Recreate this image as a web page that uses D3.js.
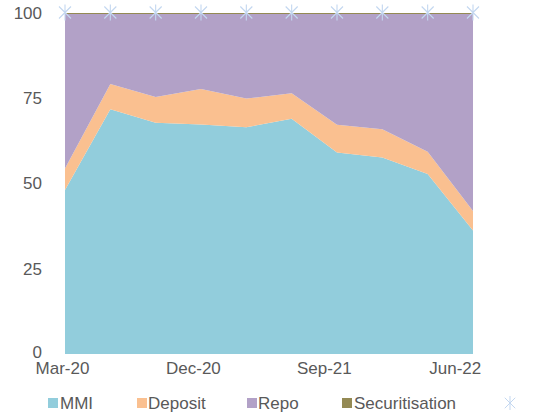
<!DOCTYPE html>
<html><head><meta charset="utf-8">
<script src="https://cdn.jsdelivr.net/npm/d3@7"></script>
<style>html,body{margin:0;padding:0;background:#fff;}svg{display:block;font-family:"Liberation Sans",Arial,sans-serif;}</style>
</head><body>
<svg id="chart" width="543" height="415"></svg>
<script>
const categories = ["Mar-20","Jun-20","Sep-20","Dec-20","Mar-21","Jun-21","Sep-21","Dec-21","Mar-22","Jun-22"];
const mmi = [48.1, 71.8, 67.8, 67.3, 66.5, 69.0, 59.1, 57.6, 52.8, 36.2];
const deposit = [6.3, 7.4, 7.6, 10.4, 8.4, 7.5, 8.1, 8.3, 6.5, 5.7];
const securitisation = [0.3, 0.3, 0.3, 0.3, 0.3, 0.3, 0.3, 0.3, 0.3, 0.3];
const repo = [45.3, 20.5, 24.3, 22.0, 24.8, 23.2, 32.5, 33.8, 40.4, 57.8];
const markerSeries = [100, 100, 100, 100, 100, 100, 100, 100, 100, 100];
const yTicks = [0, 25, 50, 75, 100];
const xTickLabels = ["Mar-20", "Dec-20", "Sep-21", "Jun-22"];

const seriesNames = ["MMI", "Deposit", "Repo", "Securitisation"];
const colors = {"MMI": "#92cddc", "Deposit": "#fac090", "Repo": "#b2a1c7", "Securitisation": "#948a54"};
const starColor = "#c3d7f0";

const rows = categories.map((c, i) => ({cat: c, MMI: mmi[i], Deposit: deposit[i], Repo: repo[i], Securitisation: securitisation[i]}));

const svg = d3.select("#chart");
const plotLeft = 65, plotRight = 473, plotTop = 13, plotBottom = 354;

const x = d3.scalePoint().domain(categories).range([plotLeft, plotRight]);
const y = d3.scaleLinear().domain([0, 100]).range([plotBottom, plotTop]);

const stack = d3.stack().keys(seriesNames);
const layers = stack(rows);

const area = d3.area()
  .x(d => x(d.data.cat))
  .y0(d => y(d[0]))
  .y1(d => y(d[1]));

svg.append("g").selectAll("path").data(layers).join("path")
  .attr("d", area)
  .attr("fill", d => colors[d.key]);

// Y axis (labels only)
const yAxis = d3.axisLeft(y).tickValues(yTicks).tickSize(0).tickPadding(0);
const gy = svg.append("g").attr("transform", `translate(42,0)`).call(yAxis);
gy.select(".domain").remove();
gy.selectAll("text").attr("font-size", 17).attr("fill", "#595959")
  .attr("font-family", "Liberation Sans, Arial, sans-serif")
  .attr("dy", d => d === 0 ? "0.22em" : "0.32em");

// X axis (labels only)
const xAxis = d3.axisBottom(x).tickValues(xTickLabels).tickSize(0).tickPadding(0);
const gx = svg.append("g").attr("transform", `translate(0,${plotBottom})`).call(xAxis);
gx.select(".domain").remove();
gx.selectAll("text").attr("font-size", 17).attr("fill", "#595959")
  .attr("font-family", "Liberation Sans, Arial, sans-serif")
  .attr("y", 19.5).attr("dy", 0)
  .attr("dx", d => -3 - 1.7 * categories.indexOf(d));

// Star markers
function starPath(cx, cy, r) {
  const a = r * 0.75;
  return `M${cx - a},${cy - a}L${cx + a},${cy + a}M${cx - a},${cy + a}L${cx + a},${cy - a}M${cx},${cy - r}L${cx},${cy + r}`;
}
svg.append("g").selectAll("path").data(markerSeries).join("path")
  .attr("d", (v, i) => starPath(x(categories[i]), y(v) - 0.5, 8))
  .attr("stroke", starColor).attr("stroke-width", 1.1).attr("fill", "none");

// Legend
const legendItems = [
  {name: "MMI", sx: 48, tx: 60},
  {name: "Deposit", sx: 137, tx: 148},
  {name: "Repo", sx: 247, tx: 258},
  {name: "Securitisation", sx: 342, tx: 354}
];
const lg = svg.append("g");
legendItems.forEach(it => {
  lg.append("rect").attr("x", it.sx).attr("y", 398).attr("width", 10).attr("height", 10).attr("fill", colors[it.name]);
  lg.append("text").attr("x", it.tx).attr("y", 409).attr("font-size", 17).attr("fill", "#595959").text(it.name);
});
lg.append("path").attr("d", starPath(510, 403, 7)).attr("stroke", starColor).attr("stroke-width", 1).attr("fill", "none");
</script>
</body></html>
